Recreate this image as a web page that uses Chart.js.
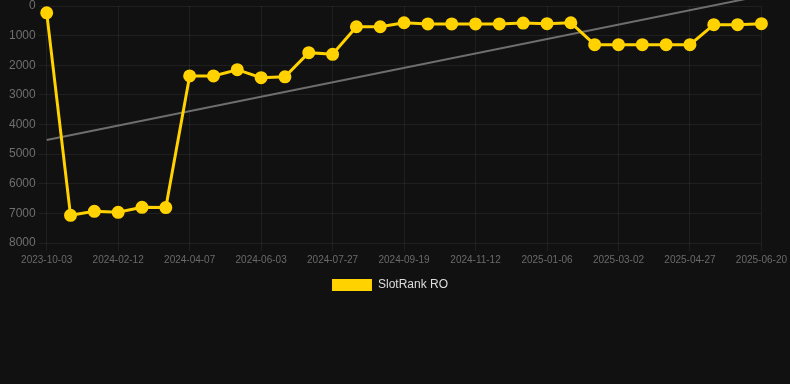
<!DOCTYPE html>
<html>
<head>
<meta charset="utf-8">
<script src="https://cdn.jsdelivr.net/npm/chart.js@4/dist/chart.umd.min.js"></script>
<style>
  html, body { margin: 0; padding: 0; background: #111111; }
  #wrap { width: 790px; height: 384px; position: relative; }
</style>
</head>
<body>
<div id="wrap"><canvas id="c"></canvas></div>
<script>
const dates = [
  '2023-10-03','2023-11-16','2023-12-30','2024-02-12','2024-03-01','2024-03-19',
  '2024-04-07','2024-04-26','2024-05-15','2024-06-03','2024-06-21','2024-07-09',
  '2024-07-27','2024-08-14','2024-09-01','2024-09-19','2024-10-07','2024-10-25',
  '2024-11-12','2024-11-30','2024-12-18','2025-01-06','2025-01-24','2025-02-11',
  '2025-03-02','2025-03-20','2025-04-08','2025-04-27','2025-05-15','2025-06-02',
  '2025-06-20'
];
const rankValues = [
  230, 7065, 6930, 6965, 6795, 6805,
  2360, 2360, 2150, 2420, 2390, 1575,
  1630, 700, 700, 565, 605, 605,
  605, 605, 575, 597, 565, 1305,
  1305, 1305, 1305, 1305, 630, 630,
  597
];
const trendValues = [4520].concat(new Array(29).fill(null), [-345]);
const yTicks = [0, 1000, 2000, 3000, 4000, 5000, 6000, 7000, 8000];
const seriesName = 'SlotRank RO';

const legendShift = {
  id: 'legendShift',
  afterLayout(chart) {
    if (chart.legend) { chart.legend.left -= 6; chart.legend.right -= 6; }
  }
};

new Chart(document.getElementById('c'), {
  type: 'line',
  plugins: [legendShift],
  data: {
    labels: dates,
    datasets: [
      {
        label: seriesName,
        data: rankValues,
        borderColor: '#FFD200',
        backgroundColor: '#FFD200',
        pointBackgroundColor: '#FFD200',
        pointBorderColor: '#FFD200',
        pointRadius: 5,
        pointHoverRadius: 5,
        borderWidth: 3,
        tension: 0,
        order: 1
      },
      {
        label: 'trend',
        data: trendValues,
        spanGaps: true,
        borderColor: '#6e6e6e',
        backgroundColor: '#6e6e6e',
        borderWidth: 2,
        pointRadius: 0,
        tension: 0,
        clip: false,
        order: 2
      }
    ]
  },
  options: {
    responsive: true,
    maintainAspectRatio: false,
    animation: false,
    layout: { autoPadding: false, padding: { left: 6, right: 4, top: 0, bottom: 83 } },
    plugins: {
      tooltip: { enabled: false },
      legend: {
        position: 'bottom',
        labels: {
          color: '#dddddd',
          font: { family: 'Liberation Sans, Arial, sans-serif', size: 12 },
          boxWidth: 40,
          boxHeight: 12,
          generateLabels: function (chart) {
            const items = Chart.defaults.plugins.legend.labels.generateLabels(chart);
            return items.filter(it => it.datasetIndex === 0).map(it => Object.assign(it, { lineWidth: 0 }));
          }
        }
      }
    },
    scales: {
      x: {
        grid: { color: 'rgba(255,255,255,0.06)', tickLength: 8 },
        border: { display: false },
        ticks: {
          autoSkip: false,
          maxRotation: 0,
          color: '#6a6a6a',
          font: { family: 'Liberation Sans, Arial, sans-serif', size: 10 },
          callback: function (v, i) { return i % 3 === 0 ? dates[i] : null; }
        }
      },
      y: {
        reverse: true,
        min: 0,
        max: 8000,
        afterBuildTicks: (axis) => { axis.ticks = yTicks.map(v => ({ value: v })); },
        grid: { color: 'rgba(255,255,255,0.06)', tickLength: 8 },
        border: { display: false },
        ticks: {
          color: '#6f6f6f',
          font: { family: 'Liberation Sans, Arial, sans-serif', size: 12, lineHeight: 0.5 },
          callback: (v) => String(v)
        }
      }
    }
  }
});
</script>
</body>
</html>
